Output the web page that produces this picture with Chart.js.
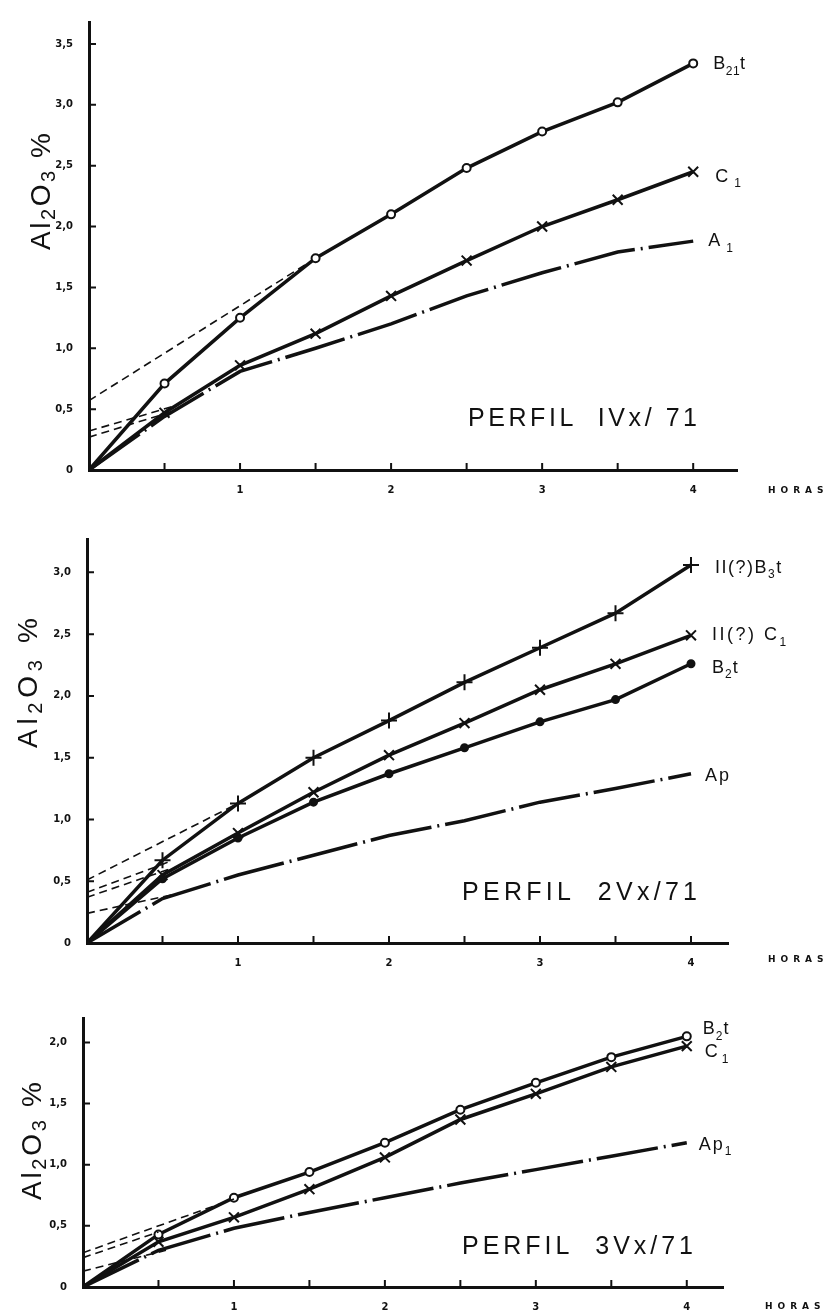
<!DOCTYPE html>
<html>
<head>
<meta charset="utf-8">
<script src="https://cdn.jsdelivr.net/npm/chart.js@4.4.1/dist/chart.umd.min.js"></script>
<style>
  html, body { margin: 0; padding: 0; background: #fff; }
  #wrap { position: relative; width: 831px; height: 1315px; overflow: hidden; }
  canvas { position: absolute; left: 0; }
</style>
</head>
<body>
<div id="wrap">
  <canvas id="c1" width="831" height="505" style="top:0px"></canvas>
  <canvas id="c2" width="831" height="470" style="top:505px"></canvas>
  <canvas id="c3" width="831" height="340" style="top:975px"></canvas>
</div>
<script>
// horas (x)
const horas = [0, 0.5, 1, 1.5, 2, 2.5, 3, 3.5, 4];

// PERFIL 1Vx/71
const p1B21t = [0, 0.71, 1.25, 1.74, 2.10, 2.48, 2.78, 3.02, 3.34];
const p1C1   = [0, 0.47, 0.86, 1.12, 1.43, 1.72, 2.00, 2.22, 2.45];
const p1A1   = [0, 0.44, 0.81, 1.00, 1.20, 1.43, 1.62, 1.79, 1.88];
// tangentes tracejadas (x, y)
const p1TanB21tX = [0, 1.45], p1TanB21tY = [0.57, 1.70];
const p1TanC1X   = [0, 0.55], p1TanC1Y   = [0.32, 0.52];
const p1TanA1X   = [0, 0.55], p1TanA1Y   = [0.27, 0.48];

// PERFIL 2Vx/71
const p2B3t = [0, 0.67, 1.13, 1.50, 1.80, 2.11, 2.39, 2.67, 3.06];
const p2C1  = [0, 0.55, 0.89, 1.22, 1.52, 1.78, 2.05, 2.26, 2.49];
const p2B2t = [0, 0.52, 0.85, 1.14, 1.37, 1.58, 1.79, 1.97, 2.26];
const p2Ap  = [0, 0.36, 0.55, 0.71, 0.87, 0.99, 1.14, 1.25, 1.37];
const p2TanB3tX = [0, 1.0],  p2TanB3tY = [0.51, 1.13];
const p2TanC1X  = [0, 0.55], p2TanC1Y  = [0.41, 0.66];
const p2TanB2tX = [0, 0.55], p2TanB2tY = [0.37, 0.60];
const p2TanApX  = [0, 0.6],  p2TanApY  = [0.24, 0.40];

// PERFIL 3Vx/71
const p3B2t = [0, 0.43, 0.73, 0.94, 1.18, 1.45, 1.67, 1.88, 2.05];
const p3C1  = [0, 0.37, 0.57, 0.80, 1.06, 1.37, 1.58, 1.80, 1.97];
const p3Ap1 = [0, 0.30, 0.48, 0.61, 0.73, 0.85, 0.96, 1.07, 1.18];
const p3TanB2tX = [0, 1.0],  p3TanB2tY = [0.28, 0.72];
const p3TanC1X  = [0, 0.5],  p3TanC1Y  = [0.24, 0.45];
const p3TanAp1X = [0, 0.55], p3TanAp1Y = [0.13, 0.30];

const INK = '#111';
const FONT = '"Liberation Sans", Arial, sans-serif';

function pts(xs, ys) { return xs.map((x, i) => ({ x: x, y: ys[i] })); }

function serie(ys, style) {
  return {
    data: pts(horas, ys),
    borderColor: INK,
    borderWidth: 3.5,
    pointBorderColor: INK,
    pointBorderWidth: 2,
    pointStyle: style.point || false,
    pointBackgroundColor: style.fill || '#fff',
    pointRadius: c => (c.raw && c.raw.x === 0) ? 0 : (style.r || 4),
    borderDash: style.dash || [],
    tension: 0
  };
}
function tangente(xs, ys) {
  return { data: pts(xs, ys), borderColor: INK, borderWidth: 1.6, borderDash: [8, 5], pointRadius: 0 };
}

// texto com partes (subscritos) e espaçamento ajustado
function partsWidth(ctx, parts, size, extra, subK) {
  let w = 0;
  parts.forEach(p => {
    ctx.font = (p.sub ? Math.round(size * subK) : size) + 'px ' + FONT;
    for (const ch of p.t) w += ctx.measureText(ch).width + extra;
  });
  return w - extra;
}
function drawParts(ctx, parts, x, y, size, extra, subK, subDy) {
  subK = subK || 0.65; subDy = subDy === undefined ? 0.3 : subDy;
  let cx = x;
  parts.forEach(p => {
    const s = p.sub ? Math.round(size * subK) : size;
    ctx.font = s + 'px ' + FONT;
    for (const ch of p.t) {
      ctx.fillText(ch, cx, y + (p.sub ? size * subDy : 0));
      cx += ctx.measureText(ch).width + extra;
    }
  });
}
function drawFit(ctx, parts, x, y, size, width, subK, subDy) {
  subK = subK || 0.65;
  let n = 0;
  parts.forEach(p => n += [...p.t].length);
  const nat = partsWidth(ctx, parts, size, 0, subK);
  const extra = n > 1 ? (width - nat) / (n - 1) : 0;
  drawParts(ctx, parts, x, y, size, extra, subK, subDy);
}

const decor = {
  id: 'decor',
  afterDraw(chart, args, o) {
    const ctx = chart.ctx, xs = chart.scales.x, ys = chart.scales.y, a = chart.chartArea;
    ctx.save();
    ctx.strokeStyle = INK; ctx.fillStyle = INK; ctx.lineWidth = 2;
    // marcas internas dos eixos
    ctx.beginPath();
    xs.ticks.forEach(t => { if (t.value > 0) { const p = xs.getPixelForValue(t.value); ctx.moveTo(p, a.bottom); ctx.lineTo(p, a.bottom - 7); } });
    ys.ticks.forEach(t => { if (t.value > 0) { const p = ys.getPixelForValue(t.value); ctx.moveTo(a.left, p); ctx.lineTo(a.left + 7, p); } });
    ctx.stroke();
    // rótulos das curvas
    ctx.textBaseline = 'alphabetic';
    o.labels.forEach(l => {
      const px = xs.getPixelForValue(4) + l.dx, py = ys.getPixelForValue(l.y) + l.dy;
      drawParts(ctx, l.parts, px, py, 18, l.sp || 0.5);
    });
    // título do perfil
    ctx.textBaseline = 'middle';
    drawFit(ctx, [{ t: o.title }], o.titleX, o.titleY, 25, o.titleW);
    // eixo y
    ctx.save();
    ctx.translate(o.yTitleX, o.yTitleY);
    ctx.rotate(-Math.PI / 2);
    ctx.textBaseline = 'alphabetic';
    drawFit(ctx, [{ t: 'Al' }, { t: '2', sub: true }, { t: 'O' }, { t: '3', sub: true }, { t: ' %' }], 0, 0, 28, o.yTitleW, 0.72, 0.18);
    ctx.restore();
    // HORAS
    ctx.font = 'bold 9px "DejaVu Sans", sans-serif';
    ctx.textBaseline = 'middle';
    let hx = o.horasX;
    for (const ch of 'HORAS') { ctx.fillText(ch, hx, o.horasY); hx += ctx.measureText(ch).width + 5; }
    ctx.restore();
  }
};

const tickFont = { family: '"DejaVu Sans", sans-serif', size: 10, weight: 'bold' };

function painel(id, area, xMax, yMax, datasets, deco) {
  const cv = document.getElementById(id);
  const W = cv.width, H = cv.height;
  return new Chart(cv, {
    type: 'line',
    data: { datasets: datasets },
    options: {
      responsive: false,
      animation: false,
      events: [],
      layout: { padding: { top: area.top, right: W - area.right, left: 0, bottom: 0 } },
      plugins: { legend: { display: false }, tooltip: { enabled: false }, decor: deco },
      scales: {
        x: {
          type: 'linear', min: 0, max: xMax,
          afterFit: s => { s.height = H - area.bottom; },
          grid: { drawOnChartArea: false, drawTicks: false },
          border: { display: true, color: INK, width: 3 },
          ticks: {
            stepSize: 0.5, includeBounds: false, autoSkip: false, maxRotation: 0, padding: 14,
            color: INK, font: tickFont,
            callback: v => (v > 0 && Number.isInteger(v)) ? String(v) : ''
          }
        },
        y: {
          type: 'linear', min: 0, max: yMax,
          afterFit: s => { s.width = area.left; },
          grid: { drawOnChartArea: false, drawTicks: false },
          border: { display: true, color: INK, width: 3 },
          ticks: {
            stepSize: 0.5, includeBounds: false, autoSkip: false, padding: 16,
            color: INK, font: tickFont,
            callback: v => v === 0 ? '0' : v.toFixed(1).replace('.', ',')
          }
        }
      }
    },
    plugins: [decor]
  });
}

const dashDot = [62, 6, 2, 6];

painel('c1', { top: 15, bottom: 470, left: 89, right: 737 }, 4.29, 3.68, [
  tangente(p1TanB21tX, p1TanB21tY),
  tangente(p1TanC1X, p1TanC1Y),
  tangente(p1TanA1X, p1TanA1Y),
  serie(p1A1, { dash: dashDot }),
  serie(p1C1, { point: 'crossRot', r: 7 }),
  serie(p1B21t, { point: 'circle', r: 4 })
], {
  labels: [
    { y: p1B21t[8], dx: 20, dy: 6, parts: [{ t: 'B' }, { t: '21', sub: true }, { t: 't' }] },
    { y: p1C1[8], dx: 22, dy: 10, sp: 6, parts: [{ t: 'C' }, { t: '1', sub: true }] },
    { y: p1A1[8], dx: 15, dy: 5, sp: 6, parts: [{ t: 'A' }, { t: '1', sub: true }] }
  ],
  title: 'PERFIL  IVx/ 71', titleX: 468, titleY: 419, titleW: 229,
  yTitleX: 50, yTitleY: 250, yTitleW: 117,
  horasX: 768, horasY: 491
});

painel('c2', { top: 34, bottom: 438, left: 87, right: 728 }, 4.245, 3.27, [
  tangente(p2TanB3tX, p2TanB3tY),
  tangente(p2TanC1X, p2TanC1Y),
  tangente(p2TanB2tX, p2TanB2tY),
  tangente(p2TanApX, p2TanApY),
  serie(p2Ap, { dash: dashDot }),
  serie(p2B2t, { point: 'circle', r: 3.5, fill: INK }),
  serie(p2C1, { point: 'crossRot', r: 7 }),
  serie(p2B3t, { point: 'cross', r: 8 })
], {
  labels: [
    { y: p2B3t[8], dx: 24, dy: 8, sp: 1.5, parts: [{ t: 'II(?)B' }, { t: '3', sub: true }, { t: 't' }] },
    { y: p2C1[8], dx: 21, dy: 5, sp: 2.5, parts: [{ t: 'II(?) C' }, { t: '1', sub: true }] },
    { y: p2B2t[8], dx: 21, dy: 9, sp: 1, parts: [{ t: 'B' }, { t: '2', sub: true }, { t: 't' }] },
    { y: p2Ap[8], dx: 14, dy: 7, sp: 2, parts: [{ t: 'Ap' }] }
  ],
  title: 'PERFIL  2Vx/71', titleX: 462, titleY: 388, titleW: 235,
  yTitleX: 37, yTitleY: 243, yTitleW: 130,
  horasX: 768, horasY: 455
});

painel('c3', { top: 43, bottom: 312, left: 83, right: 723 }, 4.24, 2.2, [
  tangente(p3TanB2tX, p3TanB2tY),
  tangente(p3TanC1X, p3TanC1Y),
  tangente(p3TanAp1X, p3TanAp1Y),
  serie(p3Ap1, { dash: dashDot }),
  serie(p3C1, { point: 'crossRot', r: 7 }),
  serie(p3B2t, { point: 'circle', r: 4 })
], {
  labels: [
    { y: p3B2t[8], dx: 16, dy: -2, sp: 1, parts: [{ t: 'B' }, { t: '2', sub: true }, { t: 't' }] },
    { y: p3C1[8], dx: 18, dy: 11, sp: 4, parts: [{ t: 'C' }, { t: '1', sub: true }] },
    { y: p3Ap1[8], dx: 12, dy: 7, sp: 2, parts: [{ t: 'Ap' }, { t: '1', sub: true }] }
  ],
  title: 'PERFIL  3Vx/71', titleX: 462, titleY: 272, titleW: 231,
  yTitleX: 41, yTitleY: 225, yTitleW: 118,
  horasX: 765, horasY: 332
});
</script>
</body>
</html>
